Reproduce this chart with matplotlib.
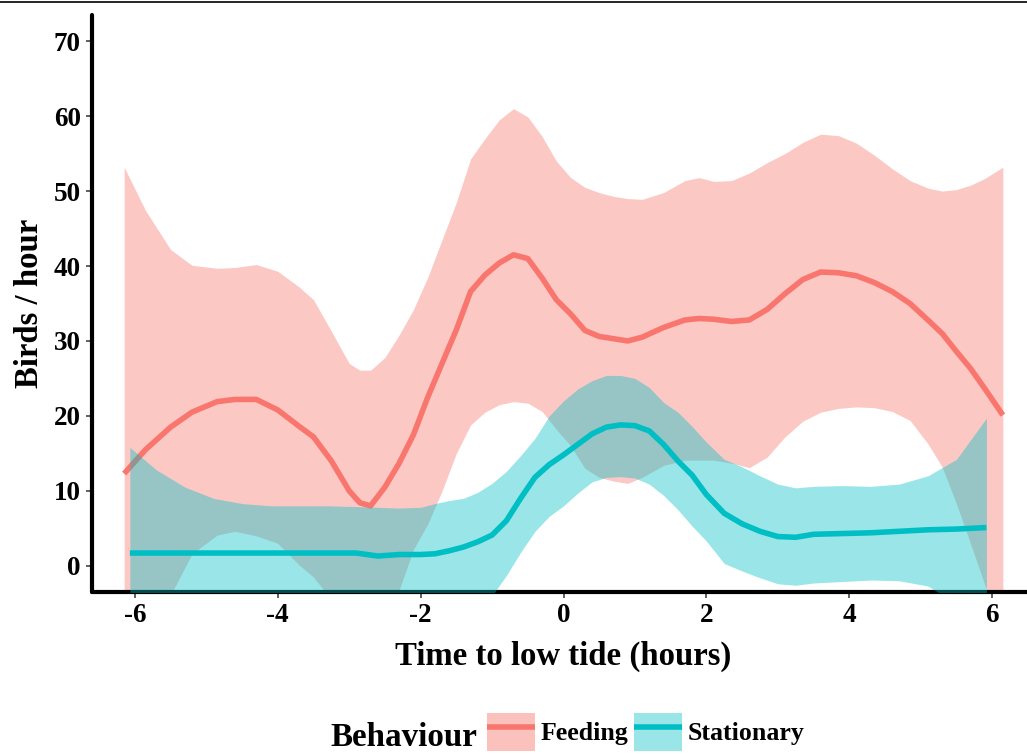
import matplotlib
matplotlib.use("Agg")
import matplotlib.pyplot as plt
from matplotlib.patches import Patch
from matplotlib.lines import Line2D

# ---------------- data ----------------
feed_x = [-6.15, -5.85, -5.5, -5.2, -4.85, -4.6, -4.3, -4.0, -3.7, -3.5, -3.25, -3.0,
          -2.85, -2.7, -2.5, -2.3, -2.1, -1.9, -1.7, -1.5, -1.3, -1.1, -0.9, -0.7,
          -0.5, -0.3, -0.1, 0.1, 0.3, 0.5, 0.7, 0.9, 1.1, 1.4, 1.7, 1.9, 2.1, 2.35,
          2.6, 2.85, 3.1, 3.35, 3.6, 3.85, 4.1, 4.35, 4.6, 4.85, 5.1, 5.3, 5.5, 5.7,
          5.9, 6.15]
feed_mean = [12.3, 15.5, 18.5, 20.5, 21.9, 22.2, 22.2, 20.8, 18.6, 17.2, 14.0, 10.0,
             8.4, 8.0, 10.5, 13.7, 17.5, 22.5, 27.0, 31.5, 36.6, 38.8, 40.4, 41.5,
             41.0, 38.4, 35.5, 33.6, 31.4, 30.6, 30.3, 30.0, 30.5, 31.8, 32.8, 33.0,
             32.9, 32.6, 32.8, 34.2, 36.3, 38.2, 39.2, 39.1, 38.7, 37.8, 36.6, 35.0,
             32.8, 31.0, 28.6, 26.3, 23.6, 20.1]
feed_hi = [53.2, 47.4, 42.2, 40.1, 39.7, 39.8, 40.2, 39.3, 37.2, 35.5, 31.3, 27.0,
           26.1, 26.1, 27.8, 30.8, 34.2, 38.5, 43.5, 48.5, 54.3, 57.0, 59.5, 61.0,
           59.9, 57.3, 54.0, 51.8, 50.5, 49.8, 49.3, 49.0, 48.9, 49.8, 51.4, 51.8,
           51.3, 51.4, 52.4, 53.8, 55.0, 56.5, 57.6, 57.4, 56.4, 54.8, 53.0, 51.4,
           50.4, 50.0, 50.2, 50.8, 51.7, 53.2]
feed_lo = [-9.0, -6.5, -3.9, 1.6, 4.1, 4.6, 4.0, 3.0, 0.1, -1.5, -4.5, -6.0,
           -6.5, -6.5, -5.5, -3.2, 2.2, 5.6, 10.0, 15.0, 18.8, 20.5, 21.5, 21.9,
           21.7, 20.6, 18.2, 16.0, 13.0, 11.8, 11.3, 11.0, 11.8, 13.4, 14.1, 14.1,
           14.1, 13.7, 13.1, 14.5, 17.2, 19.3, 20.5, 21.0, 21.2, 21.1, 20.6, 19.4,
           16.3, 13.2, 8.3, 2.9, -2.6, -8.0]

stat_x = [-6.07, -5.7, -5.3, -4.9, -4.5, -4.1, -3.7, -3.3, -2.9, -2.6, -2.3, -2.0,
          -1.8, -1.6, -1.4, -1.2, -1.0, -0.8, -0.6, -0.4, -0.2, 0.0, 0.2, 0.4, 0.6,
          0.8, 1.0, 1.2, 1.4, 1.6, 1.8, 2.0, 2.25, 2.5, 2.75, 3.0, 3.25, 3.5, 3.9,
          4.3, 4.7, 5.1, 5.5, 5.92]
stat_mean = [1.7, 1.7, 1.7, 1.7, 1.7, 1.7, 1.7, 1.7, 1.7, 1.3, 1.5, 1.5,
             1.6, 2.0, 2.5, 3.2, 4.1, 6.0, 9.0, 11.8, 13.5, 14.8, 16.2, 17.6, 18.5,
             18.8, 18.7, 18.0, 16.2, 14.0, 12.1, 9.5, 7.0, 5.6, 4.6, 3.9, 3.8, 4.2,
             4.3, 4.4, 4.6, 4.8, 4.9, 5.1]
stat_hi = [15.8, 12.8, 10.5, 9.0, 8.3, 8.0, 8.0, 8.0, 7.9, 7.8, 7.7, 7.8,
           8.3, 8.7, 9.0, 9.8, 11.0, 12.6, 14.7, 17.0, 20.0, 22.0, 23.6, 24.7, 25.4,
           25.4, 25.0, 23.8, 21.8, 20.5, 18.6, 16.5, 14.2, 13.2, 12.0, 10.9, 10.4,
           10.6, 10.7, 10.6, 10.9, 12.0, 14.2, 19.7]
stat_lo = [-12.0, -10.0, -8.5, -7.5, -7.0, -7.0, -7.0, -7.0, -7.0, -7.0, -6.5, -6.0,
           -5.8, -5.6, -5.5, -5.0, -4.0, -1.3, 1.8, 4.6, 6.6, 8.0, 9.7, 11.2, 11.8,
           11.9, 11.7, 10.9, 9.4, 7.5, 5.3, 3.3, 0.3, -0.7, -1.6, -2.4, -2.6, -2.3,
           -2.1, -1.9, -2.0, -2.7, -5.0, -9.0]

x_ticks = [-6, -4, -2, 0, 2, 4, 6]
y_ticks = [0, 10, 20, 30, 40, 50, 60, 70]
labels = ["Feeding", "Stationary"]
colors = ["#F8766D", "#00BFC4"]

# ---------------- figure ----------------
W, H = 1027, 754
fig = plt.figure(figsize=(W / 100, H / 100), dpi=100)
ax = fig.add_axes([92 / W, (H - 592) / H, (1035 - 92) / W, (592 - 15) / H])

FONT = "Liberation Serif"

ax.fill_between(feed_x, feed_lo, feed_hi, color=colors[0], alpha=0.4, lw=0, zorder=1)
ax.plot(feed_x, feed_mean, color=colors[0], lw=4, solid_capstyle="butt",
        solid_joinstyle="round", zorder=2)
ax.fill_between(stat_x, stat_lo, stat_hi, color=colors[1], alpha=0.4, lw=0, zorder=3)
ax.plot(stat_x, stat_mean, color=colors[1], lw=4, solid_capstyle="butt",
        solid_joinstyle="round", zorder=4)

ax.set_xlim(-6.6, 6.6)
ax.set_ylim(-3.5, 73.5)
ax.set_xticks(x_ticks)
ax.set_yticks(y_ticks)
ax.set_xticklabels([str(v) for v in x_ticks])
ax.set_yticklabels([str(v) for v in y_ticks])

for s in ["top", "right"]:
    ax.spines[s].set_visible(False)
for s in ["left", "bottom"]:
    ax.spines[s].set_linewidth(3.0)
    ax.spines[s].set_color("black")
    ax.spines[s].set_capstyle("round")

ax.tick_params(axis="both", length=4, width=1.2, color="#444444", pad=4,
               labelsize=19.5)
for lab in ax.get_xticklabels() + ax.get_yticklabels():
    lab.set_fontfamily(FONT)
    lab.set_fontweight("bold")
    lab.set_color("black")

ax.set_xlabel("Time to low tide (hours)", fontsize=23.6, fontfamily=FONT,
              fontweight="bold", labelpad=9)
ax.set_ylabel("Birds / hour", fontsize=23.6, fontfamily=FONT,
              fontweight="bold", labelpad=6)

# top border line
fig.add_artist(Line2D([0, 1], [1 - 2 / H, 1 - 2 / H], color="black", lw=1.2))

# legend
handles = [
    (Patch(facecolor=colors[0], alpha=0.45, edgecolor="none"),
     Line2D([], [], color=colors[0], lw=4, solid_capstyle="butt")),
    (Patch(facecolor=colors[1], alpha=0.4, edgecolor="none"),
     Line2D([], [], color=colors[1], lw=4, solid_capstyle="butt")),
]
leg = fig.legend(handles, labels, ncol=2, loc="upper left",
                 bbox_to_anchor=(487 / W, 1 - 713 / H), frameon=False,
                 prop={"family": FONT, "weight": "bold", "size": 18.6},
                 handlelength=1.86, handleheight=1.86, handletextpad=0.23,
                 columnspacing=0.19, borderpad=0, borderaxespad=0)
fig.text(330 / W, 1 - 738 / H, "Behaviour", fontsize=23.8, fontfamily=FONT,
         fontweight="bold", va="center", ha="left")

fig.savefig("out.png", dpi=100)
